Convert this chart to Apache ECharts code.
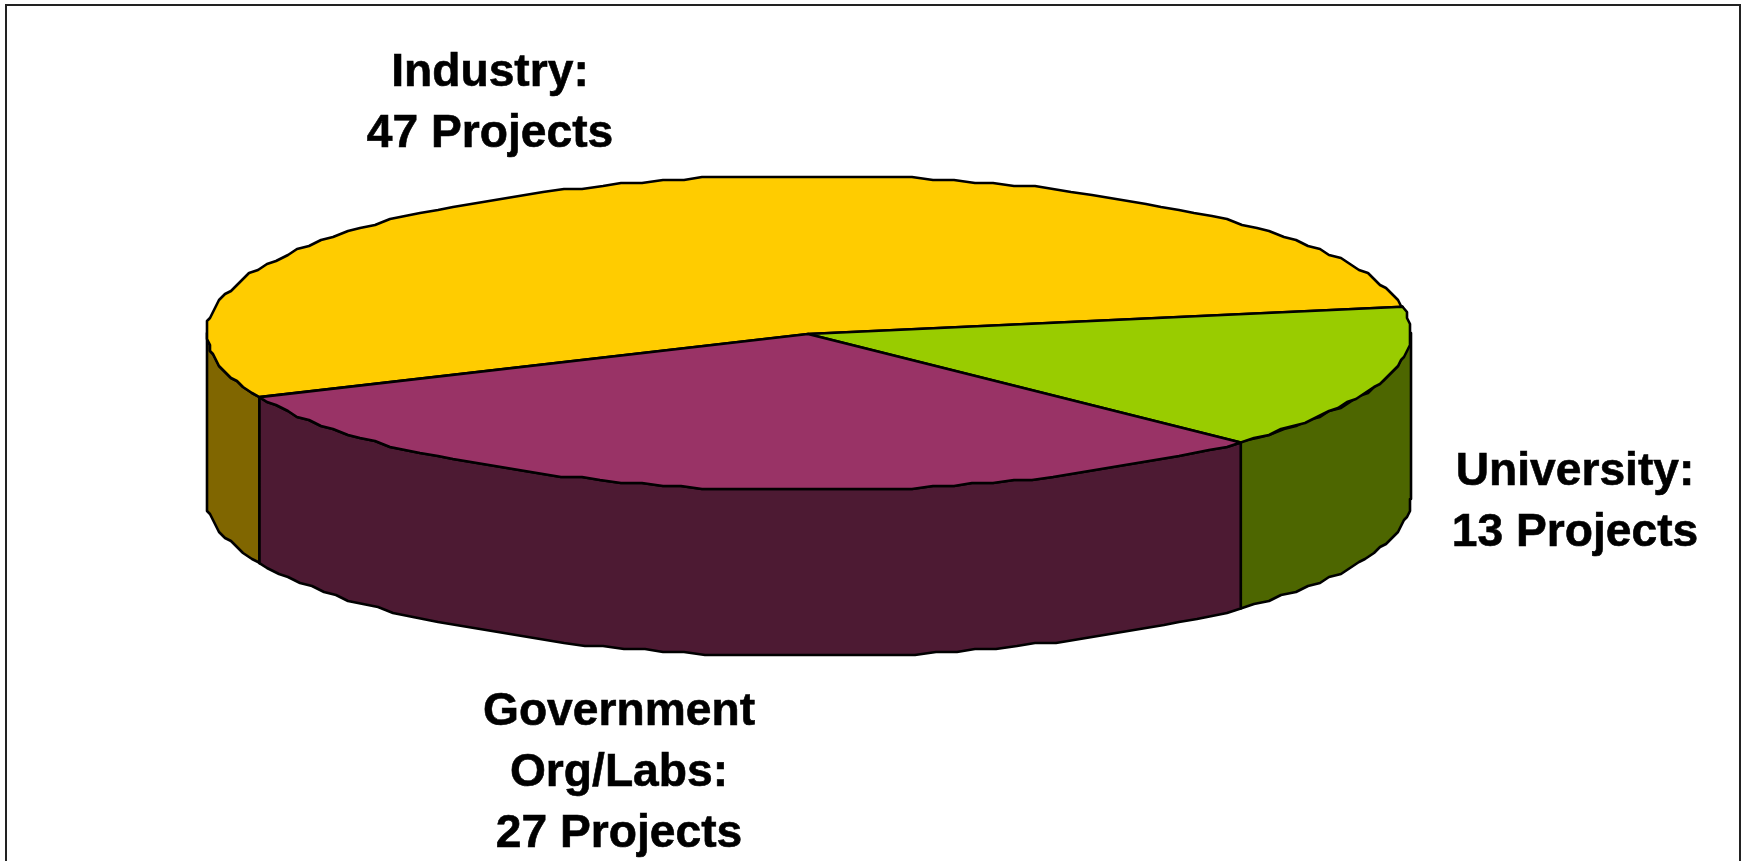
<!DOCTYPE html>
<html>
<head>
<meta charset="utf-8">
<title>Projects by sector</title>
<script src="https://cdn.jsdelivr.net/npm/echarts@6/dist/echarts.min.js"></script>
<style>
  html, body { margin: 0; padding: 0; background: #fff; }
  #chart { width: 1746px; height: 861px; }
</style>
</head>
<body>
<div id="chart"></div>
<script>
// Project counts per sector, clockwise from the first slice.
const sectors = ['Industry', 'University', 'Government'];
const projects = [47, 13, 27];
const labelNames = ['Industry:', 'University:', 'Government\nOrg/Labs:'];
const topColors = ['#FFCC00', '#99CC00', '#993366'];
const sideColors = ['#806600', '#4D6600', '#4D1A33'];
const labelCentres = [[490, 104], [1575, 503], [619, 773]];

// Tilted disc geometry, in pixels.
const disc = { cx: 809, cy: 333, rx: 602, ry: 157, depth: 166, grid: 3, step: 2 };
// Math angle (degrees) where the first slice begins; slices run clockwise.
const startAngle = 204.1;

const total = projects.reduce((a, b) => a + b, 0);

function snap(v) { return Math.round(v / disc.grid) * disc.grid; }

function rimPoint(deg, dy) {
  const t = deg * Math.PI / 180;
  return [disc.cx + disc.rx * Math.cos(t), disc.cy - disc.ry * Math.sin(t) + (dy || 0)];
}

// Rim polyline between two angles, quantised the way a low-resolution plot is.
function rim(from, to, dy) {
  const pts = [rimPoint(from, dy)];
  const dir = to > from ? 1 : -1;
  for (let d = from + dir * disc.step; (to - d) * dir > 0; d += dir * disc.step) {
    const p = rimPoint(d, dy);
    pts.push([snap(p[0]), snap(p[1] - (dy || 0)) + (dy || 0)]);
  }
  pts.push(rimPoint(to, dy));
  return pts;
}

function sliceAngles(index) {
  let sum = 0;
  for (let i = 0; i < index; i++) sum += projects[i];
  const a0 = startAngle - sum / total * 360;
  return [a0, a0 - projects[index] / total * 360];
}

// Part of a slice's arc that faces the viewer (lower half of the ellipse).
function visibleSide(a0, a1) {
  const out = [];
  for (const [lo, hi] of [[-180, 0], [180, 360]]) {
    const h = Math.min(a0, hi), l = Math.max(a1, lo);
    if (h > l) out.push([h, l]);
  }
  return out;
}

function renderSlice(params, api) {
  const i = params.dataIndex;
  const value = api.value(1);
  const [a0, a1] = sliceAngles(i);
  const lineStyle = { stroke: '#000', lineWidth: 2.6, lineJoin: 'round' };
  const children = [];

  visibleSide(a0, a1).forEach(([h, l]) => {
    const upper = rim(h, l, 0);
    const lower = rim(l, h, disc.depth);
    children.push({
      type: 'polygon', z2: 1,
      shape: { points: upper.concat(lower) },
      style: Object.assign({ fill: sideColors[i] }, lineStyle)
    });
  });

  children.push({
    type: 'polygon', z2: 2,
    shape: { points: [[disc.cx - 1, disc.cy + 1]].concat(rim(a0, a1, 0)) },
    style: Object.assign({ fill: topColors[i] }, lineStyle)
  });

  children.push({
    type: 'text', z2: 3,
    x: labelCentres[i][0], y: labelCentres[i][1],
    style: {
      text: labelNames[i] + '\n' + value + ' Projects',
      fill: '#000',
      stroke: '#000',
      lineWidth: 0.6,
      font: 'bold 46.2px "Liberation Sans", Arial, sans-serif',
      lineHeight: 61,
      align: 'center',
      verticalAlign: 'middle'
    }
  });

  return { type: 'group', children };
}

const chart = echarts.init(document.getElementById('chart'), null, { renderer: 'canvas' });
chart.setOption({
  animation: false,
  backgroundColor: '#fff',
  graphic: [{
    type: 'rect', z: -1, silent: true,
    shape: { x: 6, y: 5, width: 1734, height: 900 },
    style: { fill: 'none', stroke: '#222', lineWidth: 2 }
  }],
  series: [{
    type: 'custom',
    coordinateSystem: 'none',
    renderItem: renderSlice,
    data: sectors.map((s, i) => ({ name: s, value: [i, projects[i]] }))
  }]
});
</script>
</body>
</html>
